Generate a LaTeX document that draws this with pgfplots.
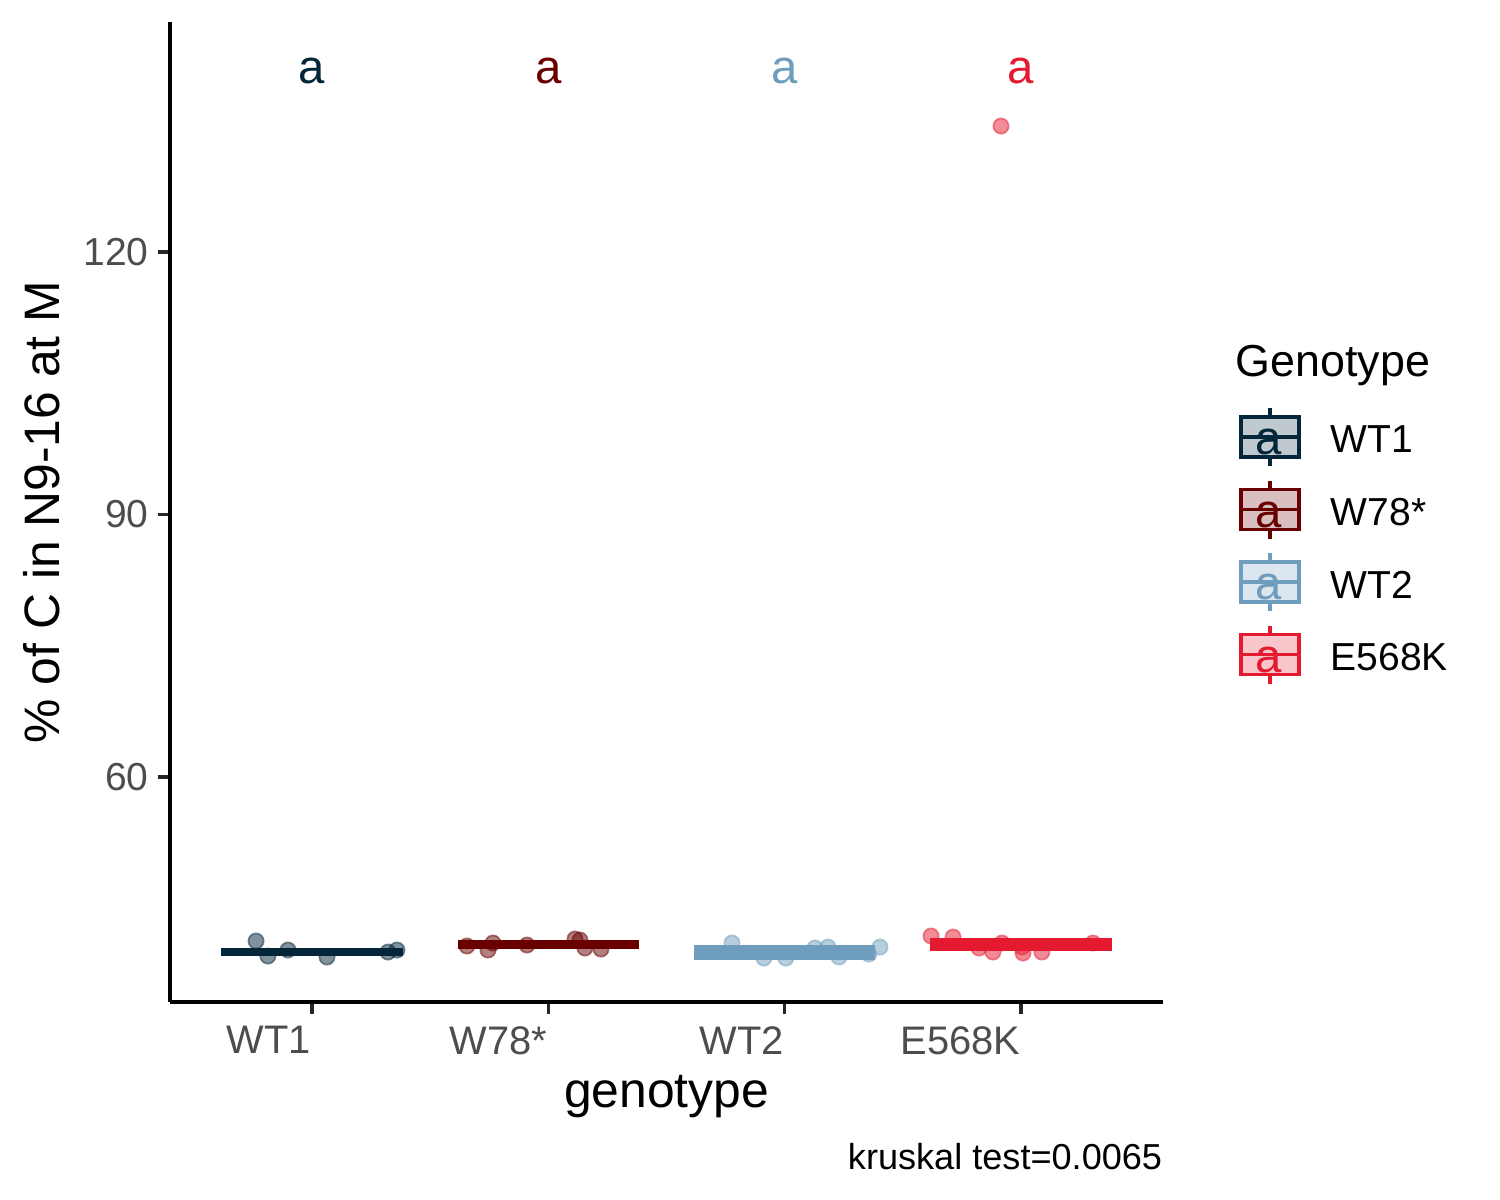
\documentclass[border=0pt]{standalone}
\usepackage{fontspec}
\setmainfont{Liberation Sans}
\usepackage{pgfplots}
\pgfplotsset{compat=1.18}
\definecolor{c1}{HTML}{03263A}
\definecolor{c2}{HTML}{680000}
\definecolor{c3}{HTML}{6E9DBD}
\definecolor{c4}{HTML}{E41A30}
\definecolor{ticktext}{HTML}{4D4D4D}
\begin{document}
\begin{tikzpicture}
\path[use as bounding box] (0,0) rectangle (361.35pt,289.08pt);
\begin{axis}[
  at={(40.953pt,47.698pt)}, anchor=south west,
  scale only axis, width=239.21pt, height=236.08pt,
  xmin=-0.6, xmax=3.6, ymin=34.29, ymax=146.29,
  axis x line*=bottom, axis y line*=left,
  axis line style={-, line width=0.95pt, black},
  every outer x axis line/.append style={-},
  every outer y axis line/.append style={-},
  xtick={0,1,2,3}, xticklabels={WT1,W78*,WT2,E568K},
  ytick={60,90,120},
  tick align=outside, major tick length=2.9pt,
  tick style={line width=0.85pt, color=black!85},
  /pgf/number format/assume math mode=true,
  xticklabel style={anchor=north east, inner sep=0pt, yshift=-2.8pt, font=\fontsize{9.6}{11}\selectfont, text=ticktext},
  yticklabel style={anchor=east, inner sep=0pt, xshift=-2.1pt, font=\fontsize{9.4}{11}\selectfont, text=ticktext},
  xlabel={genotype},
  ylabel={\% of C in N9-16 at M},
  xlabel style={at={(axis description cs:0.5,-0.108)}, anchor=base, inner sep=0pt, font=\fontsize{12}{14}\selectfont},
  ylabel style={at={(axis description cs:-0.111,0.5)}, anchor=base, inner sep=0pt, font=\fontsize{12}{14}\selectfont},
  clip=false,
]
% boxes (quartile rectangles and medians)
\addplot[draw=c1, fill=c1, line width=1pt] coordinates {(-0.375,39.78) (0.375,39.78) (0.375,40.24) (-0.375,40.24)} -- cycle;
\addplot[draw=c2, fill=c2, line width=1pt] coordinates {(0.625,40.54) (1.375,40.54) (1.375,41.14) (0.625,41.14)} -- cycle;
\addplot[draw=c3, fill=c3, line width=1pt] coordinates {(1.625,39.33) (2.375,39.33) (2.375,40.57) (1.625,40.57)} -- cycle;
\addplot[draw=c4, fill=c4, line width=1pt] coordinates {(2.625,40.34) (3.375,40.34) (3.375,41.38) (2.625,41.38)} -- cycle;
% jittered points
\addplot[only marks, mark=*, mark size=1.85pt, color=c1, opacity=0.5] coordinates {
(-0.236,41.26) (-0.186,39.54) (-0.101,40.23) (0.064,39.43) (0.322,40.0) (0.360,40.23)};
\addplot[only marks, mark=*, mark size=1.85pt, color=c2, opacity=0.5] coordinates {
(0.656,40.69) (0.766,41.03) (0.745,40.23) (0.910,40.8) (1.113,41.49) (1.134,41.37) (1.155,40.46) (1.223,40.34)};
\addplot[only marks, mark=*, mark size=1.85pt, color=c3, opacity=0.5] coordinates {
(1.777,41.03) (1.912,39.31) (2.005,39.31) (2.128,40.46) (2.183,40.57) (2.230,39.43) (2.356,39.77) (2.403,40.57)};
\addplot[only marks, mark=*, mark size=1.85pt, color=c4, opacity=0.5] coordinates {
(2.619,41.83) (2.712,41.71) (2.822,40.46) (2.881,40.0) (2.919,41.03) (3.004,40.57) (3.008,39.89) (3.088,40.0) (3.304,41.03) (2.915,134.4)};
% letters
\node[text=c1, font=\fontsize{11.4}{13}\selectfont, inner sep=0pt] at (axis cs:0,140.7) {a};
\node[text=c2, font=\fontsize{11.4}{13}\selectfont, inner sep=0pt] at (axis cs:1,140.7) {a};
\node[text=c3, font=\fontsize{11.4}{13}\selectfont, inner sep=0pt] at (axis cs:2,140.7) {a};
\node[text=c4, font=\fontsize{11.4}{13}\selectfont, inner sep=0pt] at (axis cs:3,140.7) {a};
\node[anchor=base east, inner sep=0pt, font=\fontsize{8.7}{10}\selectfont] at (axis description cs:1,-0.1714) {kruskal test=0.0065};
\end{axis}
% legend (pixel coordinates, origin top-left)
\begin{scope}[x=0.2409pt, y=-0.2409pt, yshift=289.08pt]
\node[anchor=base west, inner sep=0pt, font=\fontsize{10.8}{13}\selectfont] at (1235,377) {Genotype};
\foreach \cy/\col/\lab in {437/c1/WT1, 509.5/c2/W78*, 582/c3/WT2, 654.5/c4/E568K}{
  \draw[\col, line width=0.8pt] (1270,\cy-29) -- (1270,\cy+29);
  \draw[\col, line width=0.8pt, fill=\col!25] (1241,\cy-20) rectangle (1299,\cy+20);
  \draw[\col, line width=0.8pt] (1241,\cy) -- (1299,\cy);
  \node[text=\col, font=\fontsize{11.4}{13}\selectfont, inner sep=0pt] at (1269,\cy+5) {a};
  \node[anchor=base west, inner sep=0pt, font=\fontsize{9.4}{11}\selectfont] at (1330,\cy+16) {\lab};
}
\end{scope}
\end{tikzpicture}
\end{document}
